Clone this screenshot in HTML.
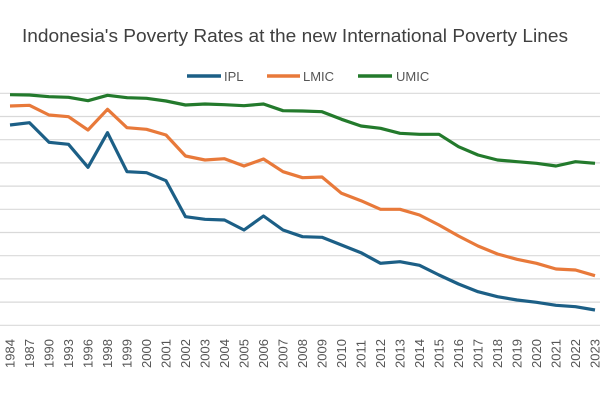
<!DOCTYPE html>
<html><head><style>body{margin:0;background:#fff}svg{display:block}</style></head><body>
<svg width="600" height="400" xmlns="http://www.w3.org/2000/svg" font-family="Liberation Sans, sans-serif">
<text x="295" y="42" text-anchor="middle" font-size="18.5" fill="#404040" textLength="546" lengthAdjust="spacingAndGlyphs">Indonesia's Poverty Rates at the new International Poverty Lines</text>
<g stroke-width="3.5">
<line x1="187" y1="76" x2="221" y2="76" stroke="#1c5f86"/>
<line x1="267" y1="76" x2="300" y2="76" stroke="#e8793a"/>
<line x1="358" y1="76" x2="392" y2="76" stroke="#237a2c"/>
</g>
<g font-size="13" fill="#555">
<text x="224" y="81">IPL</text><text x="303" y="81">LMIC</text><text x="396" y="81">UMIC</text>
</g>
<g stroke="#d9d9d9" stroke-width="1.2">
<line x1="0" x2="600" y1="93.3" y2="93.3"/><line x1="0" x2="600" y1="116.5" y2="116.5"/>
<line x1="0" x2="600" y1="139.7" y2="139.7"/><line x1="0" x2="600" y1="162.9" y2="162.9"/>
<line x1="0" x2="600" y1="186.1" y2="186.1"/><line x1="0" x2="600" y1="209.3" y2="209.3"/>
<line x1="0" x2="600" y1="232.5" y2="232.5"/><line x1="0" x2="600" y1="255.7" y2="255.7"/>
<line x1="0" x2="600" y1="278.9" y2="278.9"/><line x1="0" x2="600" y1="302.1" y2="302.1"/>
<line x1="0" x2="600" y1="325.3" y2="325.3"/>
</g>
<g fill="none" stroke-width="3.2" stroke-linejoin="round">
<polyline stroke="#237a2c" points="10,94.7 29.5,95 49,96.7 68.5,97.3 88,100.7 107.5,95.3 127,97.7 146.5,98.3 166,101 185.5,105 205,104 224.5,104.7 244,105.7 263.5,104 283,110.7 302.5,111 322,111.7 341.5,119.3 361,126 380.5,128.3 400,133.3 419.5,134.3 439,134.3 458.5,146.7 478,155 497.5,160 517,161.7 536.5,163.3 556,166 575.5,161.7 595,163.3"/>
<polyline stroke="#e8793a" points="10,106 29.5,105.3 49,115 68.5,116.7 88,130 107.5,109.3 127,127.7 146.5,129.3 166,135 185.5,156 205,160 224.5,158.7 244,166 263.5,159 283,171.7 302.5,177.7 322,177 341.5,193.3 361,200.7 380.5,209.3 400,209.3 419.5,215 439,225 458.5,236 478,246 497.5,254 517,259.3 536.5,263.3 556,269 575.5,270 595,275.7"/>
<polyline stroke="#1c5f86" points="10,125 29.5,122.7 49,142.3 68.5,144.3 88,167.3 107.5,132.7 127,171.7 146.5,172.7 166,180.7 185.5,216.7 205,219.3 224.5,220 244,230 263.5,216 283,230 302.5,236.7 322,237.3 341.5,245 361,252.7 380.5,263.3 400,261.7 419.5,265.3 439,275 458.5,284 478,291.7 497.5,296.7 517,300 536.5,302.3 556,305.3 575.5,306.7 595,310"/>
</g>
<g font-size="13" fill="#555">
<text transform="translate(14.5,368) rotate(-90)">1984</text>
<text transform="translate(34,368) rotate(-90)">1987</text>
<text transform="translate(53.5,368) rotate(-90)">1990</text>
<text transform="translate(73,368) rotate(-90)">1993</text>
<text transform="translate(92.5,368) rotate(-90)">1996</text>
<text transform="translate(112,368) rotate(-90)">1998</text>
<text transform="translate(131.5,368) rotate(-90)">1999</text>
<text transform="translate(151,368) rotate(-90)">2000</text>
<text transform="translate(170.5,368) rotate(-90)">2001</text>
<text transform="translate(190,368) rotate(-90)">2002</text>
<text transform="translate(209.5,368) rotate(-90)">2003</text>
<text transform="translate(229,368) rotate(-90)">2004</text>
<text transform="translate(248.5,368) rotate(-90)">2005</text>
<text transform="translate(268,368) rotate(-90)">2006</text>
<text transform="translate(287.5,368) rotate(-90)">2007</text>
<text transform="translate(307,368) rotate(-90)">2008</text>
<text transform="translate(326.5,368) rotate(-90)">2009</text>
<text transform="translate(346,368) rotate(-90)">2010</text>
<text transform="translate(365.5,368) rotate(-90)">2011</text>
<text transform="translate(385,368) rotate(-90)">2012</text>
<text transform="translate(404.5,368) rotate(-90)">2013</text>
<text transform="translate(424,368) rotate(-90)">2014</text>
<text transform="translate(443.5,368) rotate(-90)">2015</text>
<text transform="translate(463,368) rotate(-90)">2016</text>
<text transform="translate(482.5,368) rotate(-90)">2017</text>
<text transform="translate(502,368) rotate(-90)">2018</text>
<text transform="translate(521.5,368) rotate(-90)">2019</text>
<text transform="translate(541,368) rotate(-90)">2020</text>
<text transform="translate(560.5,368) rotate(-90)">2021</text>
<text transform="translate(580,368) rotate(-90)">2022</text>
<text transform="translate(599.5,368) rotate(-90)">2023</text>
</g>
</svg>
</body></html>
